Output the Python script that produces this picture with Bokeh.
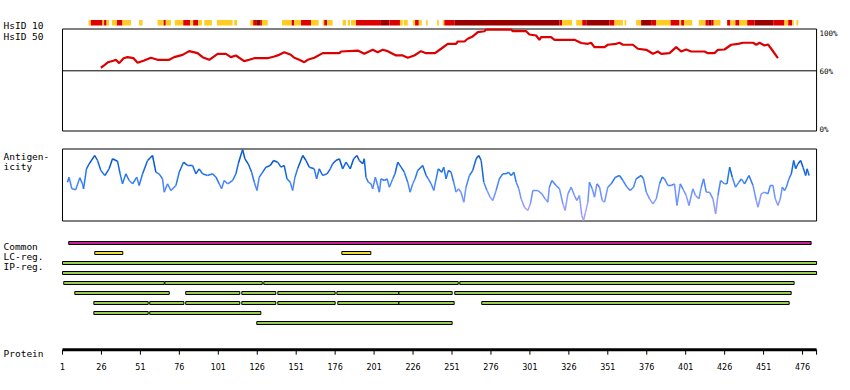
from bokeh.plotting import figure
from bokeh.models import Range1d, ColumnDataSource
from bokeh.core.properties import value
from bokeh.transform import linear_cmap
from bokeh.embed import file_html
from bokeh.resources import INLINE

# ---------------- data ----------------
PROTEIN_LEN = 485
tick_values = [1, 26, 51, 76, 101, 126, 151, 176, 201, 226, 251, 276, 301, 326, 351, 376, 401, 426, 451, 476]

# HsID 50 (% identity) along the protein
hsid_pos = [25.6, 27.7, 30.3, 34.1, 35.2, 37.4, 40.2, 42.7, 46.6, 49.2, 53.4, 57.7, 62.0, 69.5, 72.7, 78.1,
            82.3, 87.7, 90.9, 95.2, 100.6, 105.9, 109.1, 112.3, 117.6, 120.9, 124.1, 132.7, 136.9, 140.1,
            143.3, 147.6, 149.8, 153.0, 156.2, 158.4, 162.6, 168.0, 178.7, 179.8, 190.5, 194.7, 200.1,
            203.3, 206.5, 209.7, 215.1, 219.4, 222.6, 226.8, 231.1, 234.3, 240.1, 244.0, 248.3, 253.6,
            254.7, 259.0, 261.1, 264.3, 267.6, 271.8, 272.9, 288.9, 290.0, 298.6, 300.7, 305.0, 307.1,
            308.2, 314.6, 316.8, 329.6, 333.9, 338.2, 340.3, 342.4, 348.9, 351.0, 356.4, 358.5, 360.7,
            367.1, 370.3, 375.7, 380.0, 383.2, 385.3, 390.6, 394.9, 398.1, 401.3, 404.5, 413.1, 415.3,
            419.5, 421.7, 425.9, 430.2, 434.6, 437.8, 444.2, 446.3, 448.4, 451.6, 453.8, 455.9, 460.2]
hsid_val = [62.9, 65.1, 68.2, 69.8, 70.5, 67.3, 72.0, 73.0, 72.0, 67.6, 69.8, 72.4, 70.5, 70.5, 73.0, 75.2,
            78.7, 76.8, 73.0, 70.5, 76.2, 76.2, 73.0, 74.6, 69.2, 70.5, 72.0, 72.0, 73.6, 75.2,
            77.7, 75.2, 72.4, 70.5, 68.2, 70.5, 72.4, 76.8, 76.8, 78.4, 79.3, 76.2, 80.0,
            77.7, 80.0, 78.7, 74.6, 74.6, 72.4, 74.6, 78.7, 76.8, 76.8, 81.0, 85.7, 85.7,
            87.9, 87.9, 90.5, 92.7, 96.8, 97.7, 99.3, 99.3, 97.7, 97.7, 94.6, 93.6, 89.5,
            92.0, 92.0, 89.5, 89.5, 86.5, 85.7, 86.7, 82.5, 82.5, 84.8, 85.7, 86.7, 84.8,
            84.8, 81.0, 80.0, 76.2, 78.4, 76.2, 76.8, 82.5, 78.4, 80.3, 78.4, 78.4, 76.8,
            76.8, 80.0, 80.3, 84.8, 85.7, 86.7, 86.7, 84.8, 86.7, 84.1, 85.1, 81.0, 72.0]

# HsID 10 strip: segments (start, end, level 0=low, 1=mid, 2=high)
strip_start = [17.7, 19.2, 26.7, 27.7, 29.3, 32.7, 35.9, 39.5, 50.2, 62.0, 65.9, 67.3, 73.1, 78.5, 83.0, 84.9,
               88.1, 92.0, 100.1, 111.2, 121.5, 123.4, 125.3, 127.9, 129.0, 141.9, 148.1, 149.6, 154.1,
               160.5, 168.0, 169.0, 170.8, 180.8, 184.1, 186.2, 189.4, 205.4, 210.8, 217.6, 220.0, 225.8,
               227.3, 229.7, 234.4, 241.4, 245.1, 246.1, 252.5, 320.0, 321.7, 330.7, 334.6, 337.2, 352.1,
               355.3, 361.7, 369.2, 372.4, 378.8, 382.0, 391.3, 397.0, 398.1, 399.9,
               409.4, 413.7, 415.8, 417.4, 419.0, 427.6, 429.7, 432.9, 435.5, 440.5, 445.2, 457.2,
               464.4, 466.8, 469.4, 472.1]
strip_end = [19.2, 26.7, 27.7, 29.3, 30.9, 35.9, 39.5, 44.9, 52.4, 65.9, 67.3, 70.6, 78.5, 83.0, 84.9, 88.1,
             90.5, 96.9, 110.2, 113.0, 123.4, 125.3, 127.9, 129.0, 132.7, 148.1, 149.6, 154.1, 160.5,
             165.4, 169.0, 170.8, 174.4, 183.0, 185.5, 189.4, 205.4, 210.8, 217.6, 219.4, 222.6, 227.3,
             229.7, 231.6, 235.4, 242.5, 246.1, 252.5, 320.0, 321.7, 328.1, 334.6, 337.2, 352.1, 355.3,
             360.7, 362.8, 372.4, 378.8, 382.0, 391.3, 397.0, 398.1, 399.9, 405.2,
             413.7, 415.8, 417.4, 419.0, 423.3, 429.7, 432.9, 435.5, 440.5, 445.2, 457.2, 464.4,
             466.8, 469.4, 470.4, 473.2]
strip_level = [0, 1, 0, 1, 0, 0, 1, 0, 0, 0, 1, 0, 0, 1, 0, 1,
               0, 0, 0, 0, 0, 1, 2, 1, 0, 0, 1, 0, 1,
               0, 0, 1, 0, 0, 0, 0, 1, 2, 1, 0, 0, 0,
               1, 0, 0, 0, 0, 1, 2, 1, 0, 0, 1, 2, 1,
               0, 0, 0, 2, 1, 0, 1, 0, 1, 0,
               0, 1, 2, 1, 0, 1, 0, 1, 0, 1, 2, 1,
               0, 1, 0, 0]

# Antigenicity profile
ag_pos = [4.2, 5.2, 7.0, 9.5, 12.1, 13.8, 14.5, 16.4, 18.1, 21.7, 23.5, 25.6, 28.2, 30.9, 33.1, 36.3, 38.0,
          39.5, 41.7, 43.8, 46.0, 48.7, 50.2, 52.4, 55.6, 58.8, 60.9, 63.0, 65.2, 66.3, 68.4, 70.6, 73.8,
          75.9, 78.7, 81.3, 84.5, 86.6, 88.7, 90.9, 94.1, 97.3, 99.5, 101.6, 103.1, 104.8, 107.0, 110.2,
          112.3, 113.8, 116.6, 118.1, 120.2, 122.4, 124.1, 125.8, 127.3, 129.5, 131.6, 134.3, 136.5,
          139.1, 141.2, 143.3, 145.1, 147.2, 148.7, 150.2, 151.9, 155.2, 157.3, 159.4, 162.6, 164.1,
          165.8, 168.0, 170.8, 172.9, 174.4, 176.5, 178.7, 180.8, 183.0, 185.7, 187.9, 190.0, 191.5,
          193.7, 194.7, 195.8, 197.3, 199.0, 200.1, 201.8, 203.3, 204.4, 205.4, 207.6, 209.3, 210.8,
          213.0, 214.4, 216.2, 218.3, 220.4, 222.6, 224.1, 225.8, 227.3, 229.0, 232.2, 234.4, 235.8,
          237.6, 239.3, 240.8, 242.2, 244.4, 245.7, 247.2, 248.7, 250.4, 252.1, 253.6, 255.1, 256.8,
          258.6, 260.0, 262.2, 264.3, 266.5, 268.2, 269.7, 271.4, 273.5, 275.5, 277.2, 279.3, 281.4,
          283.6, 285.7, 287.2, 289.0, 290.7, 292.2, 293.9, 295.4, 297.5, 299.7, 301.3, 302.9, 306.1,
          308.7, 310.8, 312.5, 313.5, 315.1, 317.8, 320.0, 322.2, 323.6, 325.4, 327.5, 329.6, 331.1,
          332.8, 334.3, 335.4, 336.7, 338.2, 339.2, 341.0, 342.5, 344.0, 345.7, 347.4, 348.9, 351.0,
          353.2, 355.9, 358.5, 360.7, 363.3, 365.4, 367.5, 369.2, 372.4, 373.9, 375.7, 377.8, 380.0,
          382.1, 384.2, 385.9, 387.4, 389.6, 391.7, 393.8, 395.4, 397.5, 399.2, 401.3, 403.1, 405.6,
          407.3, 409.5, 411.0, 412.5, 414.2, 416.3, 418.5, 420.2, 421.7, 423.4, 425.9, 427.5, 429.2,
          430.9, 433.0, 435.2, 436.7, 438.8, 441.6, 444.2, 446.3, 447.4, 449.5, 451.6, 453.8, 455.3,
          457.0, 458.5, 460.2, 461.7, 463.0, 464.5, 465.6, 467.3, 468.8, 470.3, 471.6, 473.1, 474.8,
          476.3, 478.0, 478.9, 480.2]
ag_val = [38.3, 43.3, 31.7, 30.7, 42.7, 36.7, 31.7, 51.7, 56.7, 65.0, 60.0, 50.0, 45.0, 51.7, 61.7, 59.3, 46.7,
          36.7, 46.7, 40.0, 36.7, 43.3, 35.0, 46.7, 60.0, 65.0, 48.3, 46.7, 41.7, 28.3, 36.7, 30.0, 35.0,
          48.3, 58.3, 55.0, 55.0, 46.7, 51.7, 46.7, 45.0, 46.7, 43.3, 36.7, 31.7, 40.0, 36.7, 40.0,
          46.7, 56.7, 71.0, 61.7, 56.7, 48.3, 38.3, 30.0, 43.3, 48.3, 53.3, 55.0, 60.0,
          58.3, 53.3, 55.0, 41.7, 38.3, 30.0, 43.3, 51.7, 65.0, 60.0, 53.3, 51.7, 41.7,
          51.7, 45.0, 46.7, 51.7, 56.7, 60.0, 61.7, 51.7, 58.3, 51.7, 61.7, 65.0, 60.0,
          56.7, 61.7, 43.3, 38.3, 36.7, 31.7, 43.3, 35.0, 28.3, 41.7, 40.0, 41.7, 33.3,
          41.7, 46.7, 58.3, 53.3, 48.3, 38.3, 28.3, 36.7, 41.7, 50.0, 55.0, 45.0, 41.7,
          36.7, 30.0, 41.7, 51.7, 48.3, 53.3, 41.7, 50.0, 48.3, 38.3, 28.3, 31.7, 28.3,
          18.3, 33.3, 45.0, 50.0, 61.7, 65.0, 60.0, 38.3, 30.0, 23.3, 20.0, 30.0, 41.7,
          46.7, 46.7, 48.3, 45.0, 48.3, 38.3, 31.7, 21.7, 13.3, 10.0, 16.7, 30.0, 30.0,
          26.7, 21.7, 18.3, 33.3, 40.0, 35.0, 31.7, 16.7, 10.0, 26.7, 33.3, 25.0, 20.0,
          25.0, 5.0, 0.0, 8.3, 18.3, 38.3, 31.7, 23.3, 36.7, 33.3, 20.0, 18.3, 33.3,
          36.7, 43.3, 45.0, 40.0, 33.3, 30.0, 33.3, 41.7, 45.0, 41.7, 28.3, 21.7, 16.7,
          21.7, 36.7, 43.3, 41.7, 35.0, 35.0, 36.7, 15.0, 36.7, 31.7, 25.0, 15.0, 31.7,
          25.0, 21.7, 33.3, 41.7, 28.3, 28.3, 21.7, 6.7, 25.0, 40.0, 36.7, 36.7, 53.3,
          43.3, 33.3, 38.3, 41.7, 36.7, 45.0, 35.0, 20.0, 13.3, 26.7, 28.3, 26.7, 35.0,
          35.0, 21.7, 15.0, 21.7, 33.3, 30.0, 33.3, 41.7, 46.7, 60.0, 51.7, 56.7, 60.0,
          53.3, 45.0, 51.7, 45.0]

# Feature tracks
common_start = [5.0]
common_end = [481.5]
lc_start = [21.7, 180.3]
lc_end = [39.7, 198.9]
ip_row = [0, 1,
          2, 2, 2, 2,
          3, 3, 3, 3, 3, 3, 3,
          4, 4, 4, 4, 4, 4, 4, 4,
          5, 5,
          6]
ip_start = [1, 1,
            1.8, 66.7, 130.2, 256.0,
            8.9, 80.1, 116.1, 139.2, 177.1, 216.9, 252.8,
            21.1, 57.0, 80.1, 116.1, 139.2, 177.7, 216.9, 270.1,
            21.1, 57.0,
            125.7]
ip_end = [485, 485,
          66.3, 129.2, 255.0, 470.6,
          69.5, 114.8, 137.9, 176.0, 216.9, 251.1, 468.7,
          56.0, 78.9, 114.8, 137.9, 176.0, 216.9, 252.4, 467.4,
          56.0, 128.3,
          251.1]

track_labels = ["HsID 10", "HsID 50", "Antigen-", "icity", "Common", "LC-reg.", "IP-reg.", "Protein"]
pct_labels = ["100%", "60%", "0%"]

# ---------------- layout (page pixels; the page itself has no body margin) ----------------
W, H = 848, 388
X_RES1 = 62.0          # page x of residue 1
PX_PER_RES = 1.558


def page_to_res(px):
    return 1 + (px - X_RES1) / PX_PER_RES


x_range = Range1d(page_to_res(0), page_to_res(W))
y_range = Range1d(H, 0)   # layout units = page pixels (flipped)

# HsID panel: 60% at y=70.3, 100% at y=28.3
HS_Y60, HS_Y100 = 70.3, 28.3
hs_scale = (HS_Y60 - HS_Y100) / 40.0


def page_to_hs(py):
    return 60 + (HS_Y60 - py) / hs_scale


# Antigenicity panel: 0 at y=220, 1 unit per pixel
AG_Y0 = 220.0


def page_to_ag(py):
    return AG_Y0 - py


p = figure(width=W, height=H, x_range=x_range, y_range=y_range,
           output_backend="svg", toolbar_location=None,
           y_axis_location=None, x_axis_location=None,
           min_border_left=0, min_border_right=0, min_border_top=0, min_border_bottom=0,
           outline_line_color=None, background_fill_color="white", border_fill_color="white")
p.grid.visible = False
p.extra_y_ranges = {
    "hsid": Range1d(page_to_hs(H), page_to_hs(0)),
    "ag": Range1d(page_to_ag(H), page_to_ag(0)),
}

MONO = value("DejaVu Sans Mono")

# HsID 10 strip
STRIP_COLORS = ["#FFCC22", "#DD0000", "#990000"]
strip_src = ColumnDataSource(dict(left=strip_start, right=strip_end,
                                  color=[STRIP_COLORS[l] for l in strip_level]))
p.quad(left="left", right="right", top=19.5, bottom=25, fill_color="color", line_color=None, source=strip_src)

# panel boxes
p.quad(left=[1, 1], right=[PROTEIN_LEN, PROTEIN_LEN], top=[28.5, 148.5], bottom=[130.5, 220.5],
       fill_color=None, line_color="black", line_width=1)
p.segment(x0=[1], x1=[PROTEIN_LEN], y0=[60], y1=[60], y_range_name="hsid", line_color="black", line_width=1)

# HsID 50 line
p.line(hsid_pos, hsid_val, y_range_name="hsid", line_color="#DD0000", line_width=2.2)

# percent labels (right of the HsID box)
p.text(x=[PROTEIN_LEN, PROTEIN_LEN], y=[100, 60], text=pct_labels[:2], y_range_name="hsid",
       x_offset=[3, 3], y_offset=[5, 1], text_baseline="middle", text_align="left",
       text_font=MONO, text_font_size="7.5px", text_color="black")
p.text(x=[PROTEIN_LEN], y=[129], text=pct_labels[2:], x_offset=3, text_baseline="middle", text_align="left",
       text_font=MONO, text_font_size="7.5px", text_color="black")

# antigenicity line coloured by value
ag_xs = [[ag_pos[i], ag_pos[i + 1]] for i in range(len(ag_pos) - 1)]
ag_ys = [[ag_val[i], ag_val[i + 1]] for i in range(len(ag_val) - 1)]
ag_mid = [(ag_val[i] + ag_val[i + 1]) / 2 for i in range(len(ag_val) - 1)]
ag_src = ColumnDataSource(dict(xs=ag_xs, ys=ag_ys, mid=ag_mid))
AG_PALETTE = ["#A99CFF", "#8C9BFF", "#6E94FF", "#4A86FA", "#2A78F0", "#1568E0", "#0858CC"]
p.multi_line(xs="xs", ys="ys", source=ag_src, y_range_name="ag", line_width=1.5,
             line_color=linear_cmap("mid", AG_PALETTE, 5, 65))

# feature tracks
p.quad(left=common_start, right=common_end, top=241, bottom=244, fill_color="#CC2299", line_color="black", line_width=1)
p.quad(left=lc_start, right=lc_end, top=251, bottom=254, fill_color="#EEDD33", line_color="black", line_width=1)
ip_src = ColumnDataSource(dict(left=ip_start, right=ip_end,
                               top=[261 + 10 * r for r in ip_row], bottom=[264 + 10 * r for r in ip_row]))
p.quad(left="left", right="right", top="top", bottom="bottom", source=ip_src,
       fill_color="#99CC55", line_color="black", line_width=1)

# protein axis (line, ticks, labels)
AXIS_Y = 349.2
all_ticks = tick_values + [PROTEIN_LEN]
p.segment(x0=[1], x1=[PROTEIN_LEN], y0=[AXIS_Y], y1=[AXIS_Y], line_color="black", line_width=3)
p.segment(x0=all_ticks, x1=all_ticks, y0=[AXIS_Y] * len(all_ticks), y1=[AXIS_Y + 5] * len(all_ticks),
          line_color="black", line_width=1)
p.text(x=tick_values, y=[365.5] * len(tick_values), text=[str(t) for t in tick_values],
       text_align="center", text_baseline="alphabetic", text_font=value("DejaVu Sans"),
       text_font_size="8px", text_color="black")

# track labels (left)
label_y = [25.3, 36, 156, 166, 246.3, 256, 266, 353]
p.text(x=[page_to_res(3)] * len(track_labels), y=label_y, text=track_labels,
       text_font=MONO, text_font_size="9.5px", text_baseline="alphabetic", text_align="left", text_color="black")

open("out.html", "w").write(file_html(p, INLINE))
